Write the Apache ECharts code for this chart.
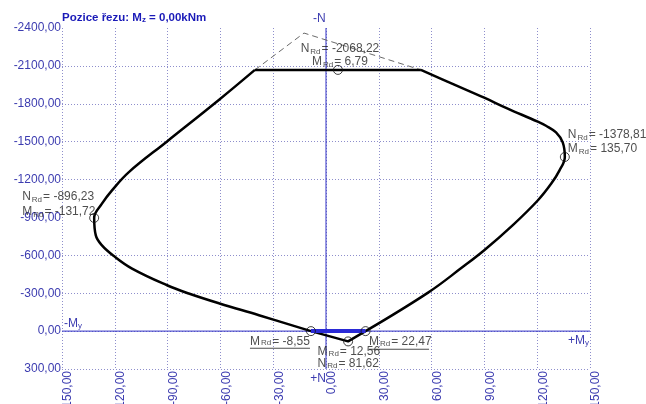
<!DOCTYPE html>
<html>
<head>
<meta charset="utf-8">
<script src="https://cdn.jsdelivr.net/npm/echarts@6/dist/echarts.min.js"></script>
<style>
  html, body { margin: 0; padding: 0; background: #fff; }
  #chart { width: 646px; height: 404px; }
</style>
</head>
<body>
<div id="chart"></div>
<script>
// Axis ranges (M_y in kNm, N in kN; compression negative, drawn upward)
const mRange = [-150, 150];
const mStep = 30;
const nRange = [-2400, 300];
const nStep = 300;

// Interaction curve: left branch from the cap corner down to the N = 0 crossing
const leftM = [-40.4, -60.9, -90.3, -112.0, -121.6, -127.3, -131.72, -130.8, -127.3, -120.3, -110.2, -90.3, -78.0, -60.5, -38.1, -8.55];
const leftN = [-2068.22, -1830, -1502, -1259, -1114, -1009, -896.23, -758, -679, -592, -495, -363, -298, -219, -126, 0];

// Tension tip between the two N = 0 crossings
const tipM = [-8.55, 12.56, 22.47];
const tipN = [0, 81.62, 0];

// Right branch from the N = 0 crossing up to the cap corner
const rightM = [22.47, 58.0, 77.6, 89.9, 106.0, 120.3, 127.9, 132.6, 135.70, 134.5, 130.7, 125.0, 120.3, 102.3, 89.9, 71.9, 53.9];
const rightN = [0, -305, -507, -640, -837, -1034, -1166, -1271, -1378.81, -1494, -1573, -1626, -1658, -1768, -1848, -1958, -2068.22];

// Flat compression cap
const capM = [-40.4, 53.9];
const capN = [-2068.22, -2068.22];

// Uncapped compression limit (dashed)
const limitM = [-40.4, -12.5, 53.9];
const limitN = [-2068.22, -2360, -2068.22];

// Marked resistance points: top, left, right, bottom tip, left crossing, right crossing
const pointM = [6.79, -131.72, 135.70, 12.56, -8.55, 22.47];
const pointN = [-2068.22, -896.23, -1378.81, 81.62, 0, 0];

const FONT = '"Liberation Sans", Arial, sans-serif';
const AXIS_BLUE = '#3c3cb0';
const LINE_BLUE = '#2f2fc4';
const TEXT = '#222';
const fmt = v => v.toFixed(2).replace('.', ',');
const pairs = (ms, ns) => ms.map((m, i) => [m, ns[i]]);

function richFor(lh, ulWidth) {
  return {
    n: { fontSize: 12, lineHeight: lh, color: TEXT, fontFamily: FONT },
    s: { fontSize: 8, color: TEXT, fontFamily: FONT, verticalAlign: 'bottom', padding: [0, 1, 0, 1] },
    u: { width: ulWidth || 0, height: 1, lineHeight: 3, backgroundColor: TEXT }
  };
}
const nLine = v => `{n|N}{s|Rd}{n|= ${fmt(v)}}`;
const mLine = v => `{n|M}{s|Rd}{n|= ${fmt(v)}}`;

// Label placement for each marked point
const labelLayouts = [
  { order: 'NM', align: 'center', verticalAlign: 'bottom', offset: [2, -1.5], lh: 13 },
  { order: 'NM', align: 'left', verticalAlign: 'bottom', offset: [-72, 1.3], lh: 15 },
  { order: 'NM', align: 'left', verticalAlign: 'bottom', offset: [3, -1], lh: 14 },
  { order: 'MN', align: 'left', verticalAlign: 'top', offset: [-30.5, 4.3], lh: 12 },
  { order: 'M_', align: 'right', verticalAlign: 'top', offset: [-1, 4.7], lh: 11, ul: 60 },
  { order: 'M_', align: 'left', verticalAlign: 'top', offset: [3.5, 4.7], lh: 12, ul: 60 }
];

const pointData = pointM.map((m, i) => {
  const L = labelLayouts[i];
  const n = pointN[i];
  let text;
  if (L.order === 'NM') text = nLine(n) + '\n' + mLine(m);
  else if (L.order === 'MN') text = mLine(m) + '\n' + nLine(n);
  else text = mLine(m) + '\n{u|}';
  return {
    value: [m, n],
    label: {
      show: true,
      position: 'inside',
      formatter: text,
      rich: richFor(L.lh, L.ul),
      align: L.align,
      verticalAlign: L.verticalAlign,
      offset: L.offset,
      color: TEXT
    }
  };
});

// Horizontal grid: no line at the top edge and none at -900
const nTickCount = (nRange[1] - nRange[0]) / nStep + 1;
const nGridColors = Array.from({ length: nTickCount }, (_, i) =>
  (i === 0 || i === 5) ? 'rgba(0,0,0,0)' : '#8e8ecc');

const chart = echarts.init(document.getElementById('chart'), null, { renderer: 'canvas' });

chart.setOption({
  animation: false,
  backgroundColor: '#fff',
  textStyle: { fontFamily: FONT },
  grid: { left: 62, right: 56, top: 28, bottom: 35, containLabel: false, outerBoundsMode: 'none' },
  xAxis: {
    type: 'value',
    min: mRange[0], max: mRange[1], interval: mStep,
    axisLine: { show: false },
    axisTick: { show: false },
    axisLabel: {
      rotate: 90, margin: 2, color: AXIS_BLUE, fontSize: 12, fontFamily: FONT,
      verticalAlign: 'top', formatter: v => fmt(v), hideOverlap: false
    },
    splitLine: { show: true, lineStyle: { color: '#8e8ecc', width: 1, type: [1, 2] } }
  },
  yAxis: {
    type: 'value',
    inverse: true,
    min: nRange[0], max: nRange[1], interval: nStep,
    axisLine: { show: false },
    axisTick: { show: false },
    axisLabel: { margin: 1, color: AXIS_BLUE, fontSize: 12, fontFamily: FONT, formatter: v => fmt(v) },
    splitLine: { show: true, lineStyle: { color: nGridColors, width: 1, type: [1, 2] } }
  },
  series: [
    { type: 'line', silent: true, showSymbol: false, z: 2,
      data: [[mRange[0], 0], [mRange[1], 0]],
      lineStyle: { color: LINE_BLUE, width: 1 } },
    { type: 'line', silent: true, showSymbol: false, z: 2,
      data: [[0, nRange[0]], [0, nRange[1]]],
      lineStyle: { color: LINE_BLUE, width: 1 } },
    { type: 'line', silent: true, showSymbol: false, z: 3,
      data: pairs(limitM, limitN),
      lineStyle: { color: '#6a6a6a', width: 1, type: [6, 4] } },
    { type: 'line', silent: true, showSymbol: false, z: 4, smooth: 0.4,
      data: pairs(leftM, leftN),
      lineStyle: { color: '#000', width: 2.5 } },
    { type: 'line', silent: true, showSymbol: false, z: 4,
      data: pairs(tipM, tipN),
      lineStyle: { color: '#000', width: 2.5 } },
    { type: 'line', silent: true, showSymbol: false, z: 4, smooth: 0.4,
      data: pairs(rightM, rightN),
      lineStyle: { color: '#000', width: 2.5 } },
    { type: 'line', silent: true, showSymbol: false, z: 4,
      data: pairs(capM, capN),
      lineStyle: { color: '#000', width: 2.5 } },
    { type: 'line', silent: true, showSymbol: false, z: 5,
      data: [[tipM[0], tipN[0]], [tipM[2], tipN[2]]],
      lineStyle: { color: '#2a2ad6', width: 4 } },
    { type: 'scatter', silent: true, z: 6,
      symbol: 'circle', symbolSize: 9,
      itemStyle: { color: 'rgba(255,255,255,0)', borderColor: '#111', borderWidth: 1 },
      data: pointData }
  ],
  graphic: [
    { type: 'text', left: 62, top: 12, z: 10,
      style: {
        text: '{b|Pozice řezu: M}{z|z}{b| = 0,00kNm}',
        rich: {
          b: { fontFamily: FONT, fontSize: 11.5, fontWeight: 'bold', fill: '#1a1ab8' },
          z: { fontFamily: FONT, fontSize: 8, fontWeight: 'bold', fill: '#1a1ab8', verticalAlign: 'bottom' }
        }
      } },
    { type: 'text', left: 313, top: 13, z: 10,
      style: { text: '-N', fontFamily: FONT, fontSize: 12, fill: AXIS_BLUE } },
    { type: 'text', right: 646 - 326, top: 373, z: 10,
      style: { text: '+N', fontFamily: FONT, fontSize: 12, fill: AXIS_BLUE } },
    { type: 'text', left: 64, top: 318, z: 10,
      style: {
        text: '{a|-M}{s|y}',
        rich: {
          a: { fontFamily: FONT, fontSize: 12, fill: AXIS_BLUE },
          s: { fontFamily: FONT, fontSize: 8, fill: AXIS_BLUE, verticalAlign: 'bottom' }
        }
      } },
    { type: 'text', left: 568, top: 335, z: 10,
      style: {
        text: '{a|+M}{s|y}',
        rich: {
          a: { fontFamily: FONT, fontSize: 12, fill: AXIS_BLUE },
          s: { fontFamily: FONT, fontSize: 8, fill: AXIS_BLUE, verticalAlign: 'bottom' }
        }
      } }
  ]
});
</script>
</body>
</html>
